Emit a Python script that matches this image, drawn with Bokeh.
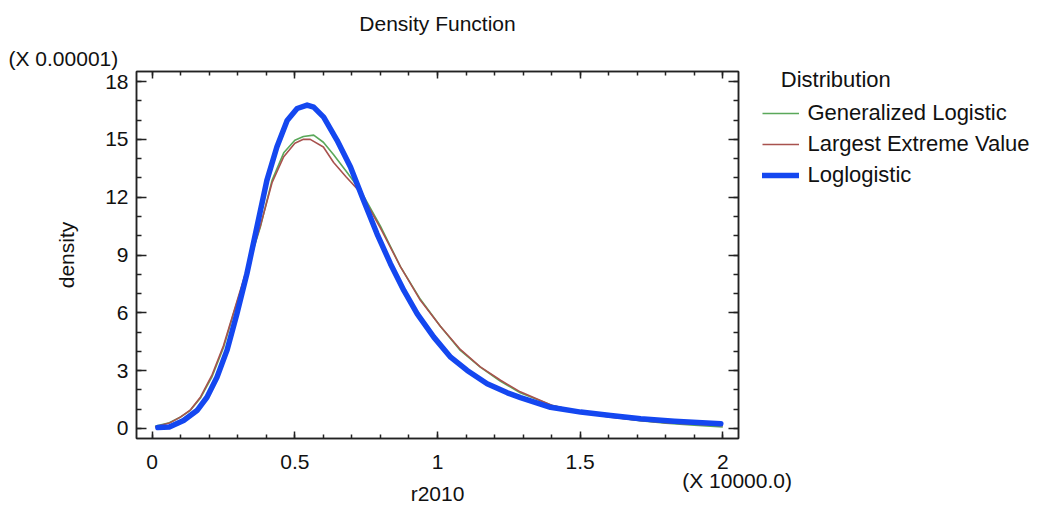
from bokeh.plotting import figure
from bokeh.models import (Range1d, LinearAxis, FixedTicker, Legend, LegendItem, Title,
                          CustomJSTickFormatter)
from bokeh.embed import file_html
from bokeh.resources import INLINE

# ---- data (x in units of 10000, density in units of 0.00001) ----
gl_x = [0.01, 0.06, 0.10, 0.133, 0.17, 0.209, 0.25, 0.285, 0.33, 0.379, 0.42, 0.461, 0.50, 0.53,
        0.566, 0.60, 0.636, 0.68, 0.73, 0.80, 0.87, 0.94, 1.01, 1.08, 1.15, 1.221, 1.29, 1.40,
        1.50, 1.60, 1.71, 1.80, 1.90, 2.00]
gl_y = [0.12, 0.3, 0.6, 0.93, 1.6, 2.66, 4.2, 5.95, 8.1, 10.45, 12.87, 14.3, 14.95, 15.15,
        15.22, 14.85, 14.2, 13.35, 12.35, 10.5, 8.4, 6.7, 5.3, 4.05, 3.18, 2.45, 1.85, 1.2,
        0.85, 0.62, 0.4, 0.28, 0.17, 0.08]

lev_x = [0.01, 0.06, 0.10, 0.133, 0.17, 0.209, 0.25, 0.285, 0.33, 0.379, 0.42, 0.461, 0.50, 0.53,
         0.554, 0.60, 0.636, 0.68, 0.73, 0.80, 0.87, 0.94, 1.01, 1.08, 1.15, 1.221, 1.29, 1.40,
         1.50, 1.60, 1.71, 1.80, 1.90, 2.00]
lev_y = [0.08, 0.28, 0.6, 0.95, 1.65, 2.75, 4.3, 6.0, 8.2, 10.5, 12.75, 14.1, 14.8, 15.0,
         15.0, 14.6, 13.8, 13.05, 12.25, 10.4, 8.4, 6.65, 5.3, 4.1, 3.2, 2.5, 1.9, 1.2,
         0.85, 0.6, 0.42, 0.3, 0.22, 0.15]

ll_x = [0.02, 0.06, 0.11, 0.157, 0.192, 0.227, 0.262, 0.297, 0.332, 0.367, 0.402, 0.437, 0.473,
        0.508, 0.543, 0.566, 0.601, 0.648, 0.695, 0.741, 0.788, 0.835, 0.882, 0.929, 0.987, 1.046,
        1.104, 1.174, 1.245, 1.291, 1.396, 1.502, 1.607, 1.712, 1.83, 1.993]
ll_y = [0.05, 0.08, 0.41, 0.93, 1.62, 2.66, 4.05, 5.95, 8.03, 10.45, 12.87, 14.6, 15.98,
        16.6, 16.78, 16.67, 16.15, 14.95, 13.56, 11.83, 10.1, 8.55, 7.16, 5.95, 4.74, 3.7,
        3.01, 2.32, 1.85, 1.6, 1.1, 0.85, 0.67, 0.5, 0.38, 0.24]

series_names = ["Generalized Logistic", "Largest Extreme Value", "Loglogistic"]
x_ticks = [0, 0.5, 1, 1.5, 2]
x_tick_labels = {0: "0", 0.5: "0.5", 1: "1", 1.5: "1.5", 2: "2"}
y_ticks = [0, 3, 6, 9, 12, 15, 18]

FONT = "Liberation Sans"
FS = "21px"
TXT = "#111111"
LINE = "#222222"

p = figure(frame_width=602, frame_height=367, output_backend="svg", toolbar_location=None,
           x_range=Range1d(-0.055, 2.055), y_range=Range1d(-0.52, 18.52),
           x_axis_type=None, y_axis_type=None,
           min_border_left=136, min_border_right=0, min_border_top=71, min_border_bottom=68)
p.grid.visible = False
p.outline_line_color = LINE
p.outline_line_width = 1.5
p.background_fill_color = "white"
p.border_fill_color = "white"

p.title.text = "Density Function"
p.title.align = "center"
p.title.text_font = FONT
p.title.text_font_size = FS
p.title.text_font_style = "normal"
p.title.text_color = TXT
p.title.standoff = 18

empty_fmt = CustomJSTickFormatter(code="return ''")


def style_axis(ax, major_in, minor_in):
    ax.axis_line_color = LINE
    ax.axis_line_width = 1.5
    ax.major_tick_in = major_in
    ax.major_tick_out = 0
    ax.minor_tick_in = minor_in
    ax.minor_tick_out = 0
    ax.major_tick_line_color = LINE
    ax.minor_tick_line_color = LINE
    ax.major_tick_line_width = 1.5
    ax.minor_tick_line_width = 1.5
    ax.major_label_text_font = FONT
    ax.major_label_text_color = TXT
    ax.major_label_text_font_size = FS
    ax.axis_label_text_font = FONT
    ax.axis_label_text_font_style = "normal"
    ax.axis_label_text_color = TXT
    ax.axis_label_text_font_size = FS


xt = FixedTicker(ticks=x_ticks, minor_ticks=[i / 10 for i in range(0, 21)])
yt = FixedTicker(ticks=y_ticks, minor_ticks=list(range(0, 19)))

# bottom axis: ticks + tick labels
xb = LinearAxis(ticker=xt, major_label_overrides=x_tick_labels)
style_axis(xb, 7, 4)
xb.major_label_standoff = 16
p.add_layout(xb, "below")

# second bottom axis: scale factor note + axis title
xs = LinearAxis(ticker=FixedTicker(ticks=[2.05], minor_ticks=[]),
                major_label_overrides={2.05: "(X 10000.0)"}, axis_label="r2010")
style_axis(xs, 0, 0)
xs.axis_line_color = None
xs.major_tick_line_color = None
xs.minor_tick_line_color = None
xs.major_label_standoff = -3
xs.axis_label_standoff = -13
p.add_layout(xs, "below")

xa = LinearAxis(ticker=xt, formatter=empty_fmt)
style_axis(xa, 7, 4)
xa.major_label_standoff = 0
p.add_layout(xa, "above")

p.add_layout(Title(text="(X 0.00001)", align="left", offset=-128, standoff=3,
                   text_font=FONT, text_font_size=FS, text_font_style="normal",
                   text_color=TXT), "above")

yl = LinearAxis(ticker=yt, axis_label="density")
style_axis(yl, 10, 5)
yl.major_label_standoff = 8
yl.axis_label_standoff = 24
p.add_layout(yl, "left")

yr = LinearAxis(ticker=yt, formatter=empty_fmt)
style_axis(yr, 10, 5)
yr.major_label_standoff = 0
p.add_layout(yr, "right")

r_gl = p.line(gl_x, gl_y, line_color="#5aa85a", line_width=1.6, line_join="round")
r_lev = p.line(lev_x, lev_y, line_color="#a8524e", line_width=1.6, line_join="round")
r_ll = p.line(ll_x, ll_y, line_color="#1447f0", line_width=5.5, line_join="round", line_cap="round")

legend = Legend(items=[LegendItem(label=series_names[0], renderers=[r_gl]),
                       LegendItem(label=series_names[1], renderers=[r_lev]),
                       LegendItem(label=series_names[2], renderers=[r_ll])],
                location=(-207, 250), border_line_color=None, background_fill_alpha=0,
                title="\u00a0\u00a0\u00a0Distribution", title_text_font=FONT,
                title_text_font_size="22px", title_text_font_style="normal",
                title_text_color=TXT, title_standoff=7,
                label_text_font=FONT, label_text_font_size="22px", label_text_color=TXT,
                glyph_width=37, glyph_height=20, label_height=20, spacing=5,
                padding=0, margin=0, label_standoff=8)
p.add_layout(legend, "right")

open("out.html", "w").write(file_html(p, INLINE))
